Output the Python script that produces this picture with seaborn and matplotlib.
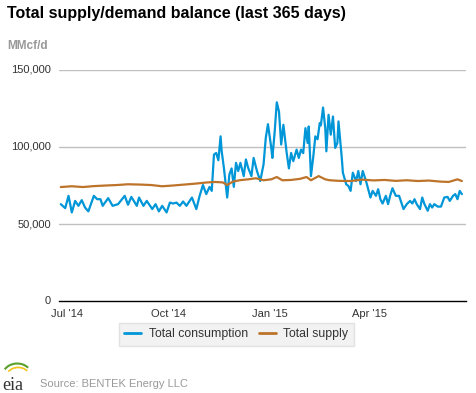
import pandas as pd
import matplotlib
matplotlib.use("Agg")
import matplotlib.pyplot as plt
import matplotlib.dates as mdates
from matplotlib.patches import Arc
from matplotlib.ticker import FuncFormatter
import seaborn as sns

# 読み取った値（日次データを目視で間引き）
cons_dates = [
    "2014-06-25", "2014-06-29", "2014-07-02", "2014-07-05", "2014-07-08", "2014-07-11",
    "2014-07-14", "2014-07-17", "2014-07-20", "2014-07-25", "2014-07-28", "2014-07-31",
    "2014-08-02", "2014-08-07", "2014-08-11", "2014-08-16", "2014-08-22", "2014-08-25",
    "2014-08-28", "2014-09-02", "2014-09-04", "2014-09-08", "2014-09-11", "2014-09-16",
    "2014-09-19", "2014-09-22", "2014-09-25", "2014-09-29", "2014-10-02", "2014-10-05",
    "2014-10-08", "2014-10-11", "2014-10-14", "2014-10-17", "2014-10-22", "2014-10-26",
    "2014-10-29", "2014-11-01", "2014-11-04", "2014-11-07", "2014-11-09", "2014-11-11",
    "2014-11-13", "2014-11-15", "2014-11-17", "2014-11-18", "2014-11-20", "2014-11-23",
    "2014-11-25", "2014-11-27", "2014-11-29", "2014-12-01", "2014-12-03", "2014-12-05",
    "2014-12-08", "2014-12-10", "2014-12-12", "2014-12-15", "2014-12-17", "2014-12-20",
    "2014-12-23", "2014-12-26", "2014-12-28", "2014-12-30", "2015-01-02", "2015-01-03",
    "2015-01-05", "2015-01-07", "2015-01-09", "2015-01-11", "2015-01-13", "2015-01-16",
    "2015-01-18", "2015-01-20", "2015-01-22", "2015-01-25", "2015-01-27", "2015-01-29",
    "2015-01-31", "2015-02-02", "2015-02-04", "2015-02-05", "2015-02-07", "2015-02-09",
    "2015-02-11", "2015-02-13", "2015-02-15", "2015-02-16", "2015-02-18", "2015-02-20",
    "2015-02-21", "2015-02-23", "2015-02-25", "2015-02-27", "2015-03-01", "2015-03-03",
    "2015-03-04", "2015-03-07", "2015-03-08", "2015-03-11", "2015-03-13", "2015-03-15",
    "2015-03-17", "2015-03-20", "2015-03-22", "2015-03-24", "2015-03-26", "2015-03-29",
    "2015-03-31", "2015-04-02", "2015-04-04", "2015-04-07", "2015-04-09", "2015-04-11",
    "2015-04-13", "2015-04-16", "2015-04-18", "2015-04-20", "2015-04-22", "2015-04-25",
    "2015-04-28", "2015-04-30", "2015-05-02", "2015-05-05", "2015-05-08", "2015-05-10",
    "2015-05-12", "2015-05-14", "2015-05-17", "2015-05-19", "2015-05-21", "2015-05-24",
    "2015-05-26", "2015-05-28", "2015-05-30", "2015-06-02", "2015-06-05", "2015-06-08",
    "2015-06-11", "2015-06-13", "2015-06-16", "2015-06-18", "2015-06-20", "2015-06-22",
    "2015-06-24",
]
consumption = [
    62900, 60300, 68300, 57500, 65000, 61800,
    65500, 60700, 58200, 68300, 66100, 66100,
    61800, 66800, 61800, 62900, 68300, 62500,
    67600, 61800, 67200, 61800, 65000, 59700,
    62900, 58200, 61800, 57500, 63900, 63300,
    63900, 61800, 64600, 61800, 67200, 59700,
    68300, 75300, 69400, 74100, 71500, 95100,
    96100, 91400, 106900, 97200, 86500, 67200,
    82200, 86100, 74100, 89700, 84400, 89700,
    81100, 91900, 86500, 81100, 92900, 84400,
    77900, 88700, 105800, 114800, 99400, 92900,
    109000, 129000, 123000, 101600, 114400, 96100,
    86100, 96100, 90800, 98300, 92900, 98300,
    96000, 112200, 102600, 113300, 81100, 92900,
    106900, 105000, 115500, 114000, 125600, 112200,
    97200, 120900, 108000, 119800, 99400, 102600,
    116600, 92900, 83300, 75800, 74700, 71500,
    83300, 77900, 84400, 75800, 84400, 77900,
    72600, 67200, 71500, 68300, 72600, 66100,
    63300, 68300, 62900, 68600, 73200, 68300,
    68300, 63900, 59700, 62900, 65000, 63300,
    66100, 62900, 59700, 67200, 62900, 58600,
    62900, 60700, 62900, 61300, 61300, 67200,
    67600, 65000, 68300, 69400, 66100, 71500,
    69400,
]

supply_dates = [
    "2014-06-25", "2014-07-05", "2014-07-15", "2014-07-25", "2014-08-05", "2014-08-15",
    "2014-08-25", "2014-09-05", "2014-09-15", "2014-09-25", "2014-10-05", "2014-10-15",
    "2014-10-25", "2014-11-05", "2014-11-12", "2014-11-19", "2014-11-23", "2014-11-28",
    "2014-12-05", "2014-12-12", "2014-12-19", "2014-12-26", "2015-01-02", "2015-01-07",
    "2015-01-12", "2015-01-20", "2015-01-28", "2015-02-03", "2015-02-07", "2015-02-14",
    "2015-02-20", "2015-02-24", "2015-03-05", "2015-03-15", "2015-03-25", "2015-04-05",
    "2015-04-15", "2015-04-25", "2015-05-05", "2015-05-15", "2015-05-25", "2015-06-05",
    "2015-06-12", "2015-06-20", "2015-06-24",
]
supply = [
    74000, 74500, 74000, 74600, 75000, 75300,
    75800, 75600, 75300, 74500, 75000, 75600,
    76200, 77000, 77300, 77000, 75300, 77500,
    78500, 79000, 79700, 78400, 79000, 80500,
    78400, 78600, 79300, 80500, 78400, 81100,
    79000, 78400, 78000, 77900, 78800, 78300,
    78600, 78000, 78400, 77900, 78200, 77500,
    77300, 79000, 77900,
]

tick_dates = ["2014-07-01", "2014-10-01", "2015-01-01", "2015-04-01"]
y_ticks = [0, 50000, 100000, 150000]

BLUE = "#0096d7"
BROWN = "#bd732a"

sns.set_style("white")
plt.rcParams["font.family"] = ["Liberation Sans", "DejaVu Sans"]

df_c = pd.DataFrame({"date": pd.to_datetime(cons_dates), "value": consumption})
df_s = pd.DataFrame({"date": pd.to_datetime(supply_dates), "value": supply})

fig = plt.figure(figsize=(4.77, 3.93), dpi=100)
ax = fig.add_axes([0.124, 0.234, 0.853, 0.588])

sns.lineplot(data=df_c, x="date", y="value", ax=ax, color=BLUE, lw=1.6,
             label="Total consumption")
sns.lineplot(data=df_s, x="date", y="value", ax=ax, color=BROWN, lw=1.6,
             label="Total supply")

ax.set_xlim(pd.Timestamp("2014-06-23 12:00"), pd.Timestamp("2015-06-27 18:00"))
ax.set_ylim(0, 150000)
ax.set_yticks(y_ticks)
ax.yaxis.set_major_formatter(FuncFormatter(lambda v, p: f"{int(v):,}"))
ax.set_xticks(pd.to_datetime(tick_dates))
ax.xaxis.set_major_formatter(mdates.DateFormatter("%b '%y"))
ax.set_xlabel("")
ax.set_ylabel("")

for v in y_ticks[1:]:
    ax.axhline(v, color="#c0c0c0", lw=1, zorder=0)

for s in ["top", "right", "left"]:
    ax.spines[s].set_visible(False)
ax.spines["bottom"].set_color("black")
ax.spines["bottom"].set_linewidth(1)
ax.tick_params(axis="y", length=0, labelsize=8, labelcolor="#333333", pad=6)
ax.tick_params(axis="x", length=5, width=1, color="black", direction="out",
               labelsize=8, labelcolor="#333333", pad=1)
for lab in ax.get_yticklabels():
    lab.set_verticalalignment("center")

leg = ax.legend(loc="center", bbox_to_anchor=(0.495, 0.15), bbox_transform=fig.transFigure,
                ncol=2, frameon=True, fontsize=8.8, handlelength=1.4, handletextpad=0.6,
                columnspacing=0.9, borderpad=0.45, fancybox=False)
leg.get_frame().set_facecolor("#efefef")
leg.get_frame().set_edgecolor("#dddddd")
for t in leg.get_texts():
    t.set_color("#333333")
for h in leg.get_lines():
    h.set_linewidth(2)

fig.text(0.015, 0.965, "Total supply/demand balance (last 365 days)", fontsize=11.5,
         fontweight="bold", color="black", va="center", ha="left")
fig.text(0.015, 0.883, "MMcf/d", fontsize=8.5, fontweight="bold", color="#999999",
         va="center", ha="left")
fig.text(0.084, 0.022, "Source: BENTEK Energy LLC", fontsize=8, color="#999999",
         va="center", ha="left")

# EIAロゴ（簡易）
fig.text(0.004, 0.018, "eia", fontsize=13, family=["Liberation Serif", "DejaVu Serif"],
         color="#333333", va="center", ha="left")
fig.add_artist(Arc((0.036, 0.045), 0.06, 0.06, theta1=40, theta2=150,
                   transform=fig.transFigure, color="#5aa02c", lw=1.5))
fig.add_artist(Arc((0.038, 0.040), 0.05, 0.05, theta1=40, theta2=145,
                   transform=fig.transFigure, color="#f0c419", lw=1.2))

fig.savefig("out.png", dpi=100)
